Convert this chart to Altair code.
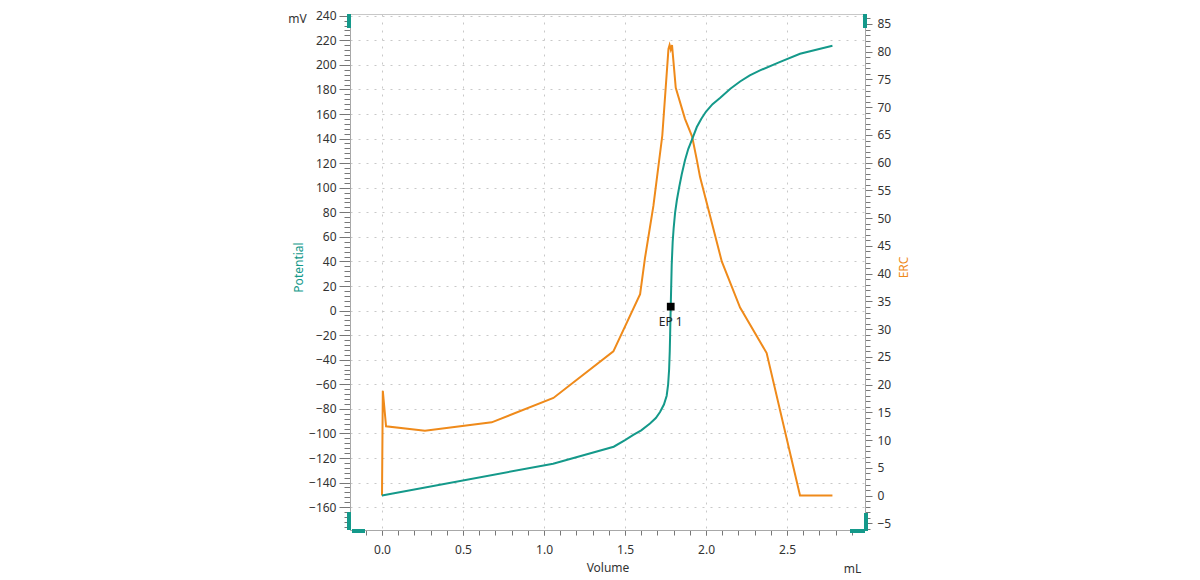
import altair as alt
import pandas as pd

# potential curve: titrant volume (mL) -> potential (mV)
pot_volume = [0.0, 1.056, 1.43, 1.5, 1.551, 1.6, 1.654, 1.69, 1.716, 1.74,
              1.757, 1.766, 1.772, 1.776, 1.778, 1.782, 1.788, 1.794, 1.80, 1.809,
              1.82, 1.835, 1.85, 1.87, 1.89, 1.912, 1.943, 1.97, 2.0, 2.04,
              2.086, 2.15, 2.21, 2.27, 2.333, 2.45, 2.58, 2.78]
pot_mv = [-150.6, -124.6, -110.8, -105.5, -101.2, -97.5, -91.9, -87.5, -82.6, -76.5,
          -69.3, -60.0, -48.0, -33.0, -21.3, 3.2, 37.2, 55.8, 67.0, 79.8,
          90.0, 101.0, 111.0, 122.4, 131.5, 138.7, 149.4, 156.0, 162.0, 168.0,
          173.0, 180.5, 186.5, 191.5, 195.5, 202.0, 209.0, 215.5]

# ERC curve: titrant volume (mL) -> ERC
erc_volume = [0.0, 0.005, 0.025, 0.265, 0.677, 1.058, 1.428, 1.593, 1.623, 1.675,
              1.73, 1.768, 1.775, 1.782, 1.79, 1.813, 1.87, 1.914, 1.943, 1.963,
              2.025, 2.097, 2.21, 2.374, 2.58, 2.78]
erc_value = [0.0, 18.9, 12.5, 11.7, 13.2, 17.6, 26.0, 36.3, 42.8, 52.2,
             64.9, 80.5, 81.2, 80.4, 81.2, 73.5, 67.9, 64.7, 60.5, 57.4,
             50.4, 42.2, 33.9, 25.7, 0.0, 0.0]

# endpoint
ep_volume = [1.782]
ep_mv = [3.2]
ep_label = ["EP 1"]

X_DOMAIN = [-0.1975, 2.981]
MV_DOMAIN = [-178.6, 241.4]
ERC_DOMAIN = [-6.2, 86.8]

X_TICKS = [0.0, 0.5, 1.0, 1.5, 2.0, 2.5]
X_MINOR = [round(i * 0.1, 1) for i in range(-1, 30)]
MV_TICKS = list(range(-160, 241, 20))
MV_MINOR = list(range(-176, 241, 4))
ERC_TICKS = list(range(-5, 86, 5))
ERC_MINOR = list(range(-6, 87, 1))

TEAL = "#14998a"
ORANGE = "#ef8a1a"
GRID = "#c8c8c8"
W, H = 515, 516

pot = pd.DataFrame({"volume": pot_volume, "potential": pot_mv})
erc = pd.DataFrame({"volume": erc_volume, "erc": erc_value})
ep = pd.DataFrame({"volume": ep_volume, "potential": ep_mv, "label": ep_label})

x_scale = alt.Scale(domain=X_DOMAIN, nice=False, zero=False)
mv_scale = alt.Scale(domain=MV_DOMAIN, nice=False, zero=False)
erc_scale = alt.Scale(domain=ERC_DOMAIN, nice=False, zero=False)

x_major = alt.X(
    "volume:Q", scale=x_scale,
    axis=alt.Axis(
        orient="bottom", values=X_TICKS, format=".1f", tickSize=5,
        labelPadding=9, grid=True, gridDash=[2, 6], gridColor=GRID,
        title="Volume", titleY=37, titleBaseline="middle"
    )
)
x_minor = alt.X(
    "volume:Q", scale=x_scale,
    axis=alt.Axis(
        orient="bottom", values=X_MINOR, labels=False, tickSize=5,
        grid=False, domain=False, title="mL", titleX=502, titleY=38,
        titleAngle=0, titleAlign="center", titleBaseline="middle"
    )
)
x_none = alt.X("volume:Q", scale=x_scale, axis=None)

potential_line = alt.Chart(pot).mark_line(color=TEAL, strokeWidth=2).encode(
    x=x_major,
    y=alt.Y(
        "potential:Q", scale=mv_scale,
        axis=alt.Axis(
            orient="left", values=MV_TICKS, tickSize=11, labelPadding=3,
            grid=True, gridDash=[2, 6], gridColor=GRID,
            title="Potential", titleColor=TEAL, titleX=-52, titleY=253,
            titleAngle=270, titleAlign="center", titleBaseline="middle"
        )
    )
)

potential_minor = alt.Chart(pot).mark_line(opacity=0).encode(
    x=x_minor,
    y=alt.Y(
        "potential:Q", scale=mv_scale,
        axis=alt.Axis(
            orient="left", values=MV_MINOR, labels=False, tickSize=6,
            grid=False, domain=False, title="mV", titleX=-53, titleY=4,
            titleAngle=0, titleAlign="center", titleBaseline="middle"
        )
    )
)

erc_line = alt.Chart(erc).mark_line(color=ORANGE, strokeWidth=2).encode(
    x=x_none,
    y=alt.Y(
        "erc:Q", scale=erc_scale,
        axis=alt.Axis(
            orient="right", values=ERC_TICKS, tickSize=7, labelPadding=5,
            grid=False, title="ERC", titleColor=ORANGE, titleX=38, titleY=253,
            titleAngle=270, titleAlign="center", titleBaseline="middle"
        )
    )
)

erc_minor = alt.Chart(erc).mark_line(opacity=0).encode(
    x=x_none,
    y=alt.Y(
        "erc:Q", scale=erc_scale,
        axis=alt.Axis(
            orient="right", values=ERC_MINOR, labels=False, tickSize=5,
            grid=False, domain=False, title=""
        )
    )
)

ep_point = alt.Chart(ep).mark_square(color="black", size=60, opacity=1).encode(
    x=x_none,
    y=alt.Y("potential:Q", scale=mv_scale, axis=None)
)
ep_text = alt.Chart(ep).mark_text(
    dy=15, fontSize=12, color="#222", font="Noto Sans"
).encode(
    x=x_none,
    y=alt.Y("potential:Q", scale=mv_scale, axis=None),
    text="label:N"
)


def handle(x1, y1, x2, y2):
    # teal corner handles on the frame
    return alt.Chart(pot).mark_rule(color=TEAL, strokeWidth=3).encode(
        x=alt.value(x1), y=alt.value(y1), x2=alt.value(x2), y2=alt.value(y2)
    )


handles = [
    handle(-1, 0, -1, 14),
    handle(W, 0, W, 14),
    handle(-1, H - 18, -1, H),
    handle(2, H + 1, 15, H + 1),
    handle(W - 15, H + 1, W, H + 1),
    handle(W + 1, H - 17, W + 1, H + 1),
]

chart = (
    alt.layer(potential_minor, erc_minor, erc_line, potential_line,
              ep_point, ep_text, *handles)
    .resolve_scale(y="independent")
    .resolve_axis(x="independent", y="independent")
    .properties(
        width=W, height=H,
        autosize=alt.AutoSizeParams(type="none"),
        padding={"left": 342, "top": 6, "right": 60, "bottom": 46}
    )
    .configure_view(stroke="#c8c8c8")
    .configure_axis(
        labelFont="Noto Sans", labelFontSize=12, labelColor="#333333",
        titleFont="Noto Sans", titleFontSize=12, titleFontWeight="normal",
        titleColor="#333333", domainColor="#a8a8a8", tickColor="#777777"
    )
)

chart.save("out.html", embed_options={"renderer": "svg", "actions": False})
